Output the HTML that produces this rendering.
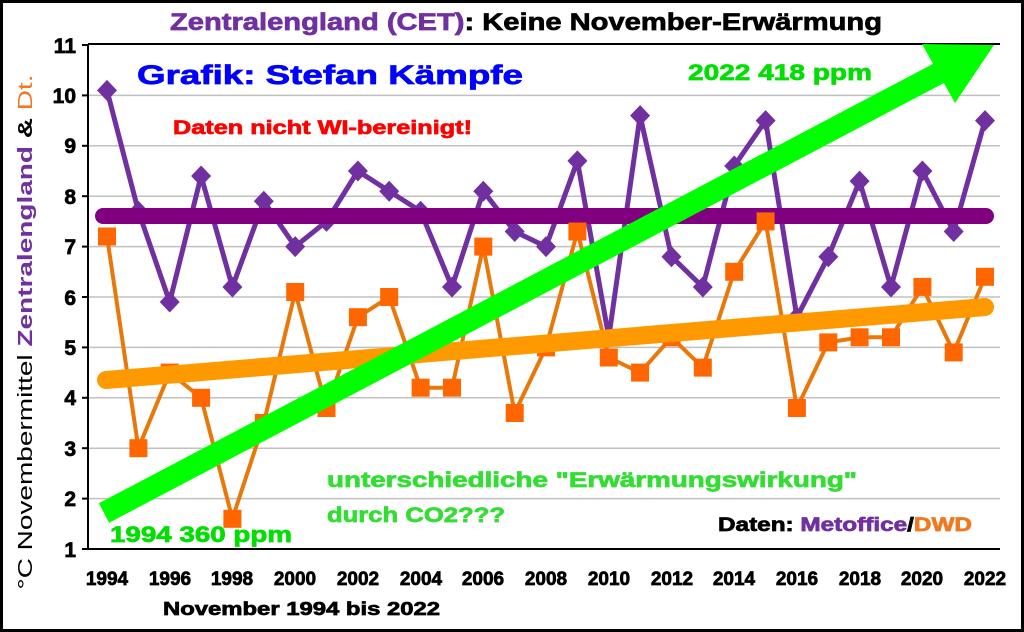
<!DOCTYPE html>
<html><head><meta charset="utf-8"><style>
html,body{margin:0;padding:0;background:#fff}
svg{display:block;font-family:"Liberation Sans",Arial,sans-serif;font-weight:bold}
.h{stroke-width:0.7;paint-order:stroke}
</style></head><body>
<svg width="1024" height="632" viewBox="0 0 1024 632" xmlns="http://www.w3.org/2000/svg">
<rect x="1.5" y="1.5" width="1021" height="629" fill="#fff" stroke="#000" stroke-width="3"/>
<g stroke="#c0c0c0" stroke-width="1.5">
<line x1="88" x2="1000" y1="95.4" y2="95.4"/><line x1="88" x2="1000" y1="145.8" y2="145.8"/>
<line x1="88" x2="1000" y1="196.2" y2="196.2"/><line x1="88" x2="1000" y1="246.6" y2="246.6"/>
<line x1="88" x2="1000" y1="297" y2="297"/><line x1="88" x2="1000" y1="347.4" y2="347.4"/>
<line x1="88" x2="1000" y1="397.8" y2="397.8"/><line x1="88" x2="1000" y1="448.2" y2="448.2"/>
<line x1="88" x2="1000" y1="498.6" y2="498.6"/>
</g>
<g stroke="#000" stroke-width="2">
<line x1="88" y1="44" x2="1000" y2="44"/>
<line x1="88" y1="44" x2="88" y2="549"/>
<line x1="88" y1="549" x2="1000" y2="549"/>
<line x1="82" x2="88" y1="45" y2="45"/><line x1="82" x2="88" y1="95.4" y2="95.4"/><line x1="82" x2="88" y1="145.8" y2="145.8"/><line x1="82" x2="88" y1="196.2" y2="196.2"/><line x1="82" x2="88" y1="246.6" y2="246.6"/><line x1="82" x2="88" y1="297" y2="297"/><line x1="82" x2="88" y1="347.4" y2="347.4"/><line x1="82" x2="88" y1="397.8" y2="397.8"/><line x1="82" x2="88" y1="448.2" y2="448.2"/><line x1="82" x2="88" y1="498.6" y2="498.6"/><line x1="82" x2="88" y1="549" y2="549"/>
</g>
<g font-size="21" text-anchor="end" fill="#000" stroke="#000" class="h">
<text x="76" y="53">11</text><text x="76" y="103">10</text><text x="76" y="153">9</text><text x="76" y="204">8</text><text x="76" y="254">7</text><text x="76" y="305">6</text><text x="76" y="355">5</text><text x="76" y="405">4</text><text x="76" y="456">3</text><text x="76" y="506">2</text><text x="76" y="557">1</text>
</g>
<g font-size="19" text-anchor="middle" fill="#000" stroke="#000" class="h">
<text x="107" y="585">1994</text><text x="170" y="585">1996</text><text x="232" y="585">1998</text><text x="295" y="585">2000</text><text x="358" y="585">2002</text><text x="421" y="585">2004</text><text x="483" y="585">2006</text><text x="546" y="585">2008</text><text x="609" y="585">2010</text><text x="672" y="585">2012</text><text x="734" y="585">2014</text><text x="797" y="585">2016</text><text x="860" y="585">2018</text><text x="922" y="585">2020</text><text x="985" y="585">2022</text>
</g>
<text x="163" y="615" font-size="18" textLength="277" lengthAdjust="spacingAndGlyphs" stroke="#000" class="h">November 1994 bis 2022</text>
<text transform="translate(32,332) rotate(-90)" font-size="20" text-anchor="middle" font-weight="normal" textLength="515" lengthAdjust="spacingAndGlyphs"><tspan fill="#000">°C Novembermittel </tspan><tspan fill="#7030A0" font-weight="bold">Zentralengland</tspan><tspan fill="#000" font-weight="bold"> &amp; </tspan><tspan fill="#F07820">Dt.</tspan></text>
<text x="170" y="30" font-size="24" textLength="712" lengthAdjust="spacingAndGlyphs" class="h"><tspan fill="#7030A0" stroke="#7030A0">Zentralengland (CET)</tspan><tspan fill="#000" stroke="#000">: Keine November-Erwärmung</tspan></text>
<!-- CET series -->
<polyline fill="none" stroke="#7030A0" stroke-width="5" stroke-linejoin="round" points="107,90.4 138.4,211.3 169.7,302 201.1,176 232.4,287 263.8,201.2 295.2,246.6 326.5,221.4 357.9,171 389.2,191.2 420.6,211.3 452,287 483.3,191.2 514.7,231.5 546,246.6 577.4,160.9 608.8,337.3 640.1,115.6 671.5,256.7 702.8,287 734.2,166 765.6,120.6 796.9,317.2 828.3,256.7 859.6,181.1 891,287 922.4,171 953.7,231.5 985,120.6"/>
<g fill="#7030A0">
<polygon points="107,79.9 117,90.4 107,100.9 97,90.4"/><polygon points="138.4,200.8 148.4,211.3 138.4,221.8 128.4,211.3"/><polygon points="169.7,291.5 179.7,302 169.7,312.5 159.7,302"/><polygon points="201.1,165.5 211.1,176 201.1,186.5 191.1,176"/><polygon points="232.4,276.5 242.4,287 232.4,297.5 222.4,287"/><polygon points="263.8,190.7 273.8,201.2 263.8,211.7 253.8,201.2"/><polygon points="295.2,236.1 305.2,246.6 295.2,257.1 285.2,246.6"/><polygon points="326.5,210.9 336.5,221.4 326.5,231.9 316.5,221.4"/><polygon points="357.9,160.5 367.9,171 357.9,181.5 347.9,171"/><polygon points="389.2,180.7 399.2,191.2 389.2,201.7 379.2,191.2"/><polygon points="420.6,200.8 430.6,211.3 420.6,221.8 410.6,211.3"/><polygon points="452,276.5 462,287 452,297.5 442,287"/><polygon points="483.3,180.7 493.3,191.2 483.3,201.7 473.3,191.2"/><polygon points="514.7,221 524.7,231.5 514.7,242 504.7,231.5"/><polygon points="546,236.1 556,246.6 546,257.1 536,246.6"/><polygon points="577.4,150.4 587.4,160.9 577.4,171.4 567.4,160.9"/><polygon points="608.8,326.8 618.8,337.3 608.8,347.8 598.8,337.3"/><polygon points="640.1,105.1 650.1,115.6 640.1,126.1 630.1,115.6"/><polygon points="671.5,246.2 681.5,256.7 671.5,267.2 661.5,256.7"/><polygon points="702.8,276.5 712.8,287 702.8,297.5 692.8,287"/><polygon points="734.2,155.5 744.2,166 734.2,176.5 724.2,166"/><polygon points="765.6,110.1 775.6,120.6 765.6,131.1 755.6,120.6"/><polygon points="796.9,306.7 806.9,317.2 796.9,327.7 786.9,317.2"/><polygon points="828.3,246.2 838.3,256.7 828.3,267.2 818.3,256.7"/><polygon points="859.6,170.6 869.6,181.1 859.6,191.6 849.6,181.1"/><polygon points="891,276.5 901,287 891,297.5 881,287"/><polygon points="922.4,160.5 932.4,171 922.4,181.5 912.4,171"/><polygon points="953.7,221 963.7,231.5 953.7,242 943.7,231.5"/><polygon points="985,110.1 995,120.6 985,131.1 975,120.6"/>
</g>
<line x1="103" y1="216" x2="986" y2="216" stroke="#800080" stroke-width="16" stroke-linecap="round"/>
<!-- DWD series -->
<polyline fill="none" stroke="#E8780A" stroke-width="4" stroke-linejoin="round" points="107,236.5 138.4,448.2 169.7,372.6 201.1,397.8 232.4,518.8 263.8,423 295.2,292 326.5,408 357.9,317.2 389.2,297 420.6,387.7 452,387.7 483.3,246.6 514.7,413 546,347.4 577.4,231.5 608.8,357.5 640.1,372.6 671.5,337.3 702.8,367.6 734.2,271.8 765.6,221.4 796.9,408 828.3,342.4 859.6,337.3 891,337.3 922.4,286.9 953.7,352.4 985,276.8"/>
<g fill="#FF6600">
<rect x="98" y="227.5" width="18" height="18"/><rect x="129.4" y="439.2" width="18" height="18"/><rect x="160.7" y="363.6" width="18" height="18"/><rect x="192.1" y="388.8" width="18" height="18"/><rect x="223.4" y="509.8" width="18" height="18"/><rect x="254.8" y="414" width="18" height="18"/><rect x="286.2" y="283" width="18" height="18"/><rect x="317.5" y="399" width="18" height="18"/><rect x="348.9" y="308.2" width="18" height="18"/><rect x="380.2" y="288" width="18" height="18"/><rect x="411.6" y="378.7" width="18" height="18"/><rect x="443" y="378.7" width="18" height="18"/><rect x="474.3" y="237.6" width="18" height="18"/><rect x="505.7" y="404" width="18" height="18"/><rect x="537" y="338.4" width="18" height="18"/><rect x="568.4" y="222.5" width="18" height="18"/><rect x="599.8" y="348.5" width="18" height="18"/><rect x="631.1" y="363.6" width="18" height="18"/><rect x="662.5" y="328.3" width="18" height="18"/><rect x="693.8" y="358.6" width="18" height="18"/><rect x="725.2" y="262.8" width="18" height="18"/><rect x="756.6" y="212.4" width="18" height="18"/><rect x="787.9" y="399" width="18" height="18"/><rect x="819.3" y="333.4" width="18" height="18"/><rect x="850.6" y="328.3" width="18" height="18"/><rect x="882" y="328.3" width="18" height="18"/><rect x="913.4" y="277.9" width="18" height="18"/><rect x="944.7" y="343.4" width="18" height="18"/><rect x="976" y="267.8" width="18" height="18"/>
</g>
<line x1="106" y1="380" x2="985" y2="307" stroke="#FF9900" stroke-width="18" stroke-linecap="round"/>
<!-- green arrow -->
<line x1="104" y1="513" x2="945" y2="70" stroke="#00FF00" stroke-width="22"/>
<polygon points="994,45 955,103 922,44" fill="#00FF00"/>
<text x="137" y="84" font-size="27" fill="#0000FF" stroke="#0000FF" class="h" textLength="386" lengthAdjust="spacingAndGlyphs">Grafik: Stefan Kämpfe</text>
<text x="173" y="134" font-size="19" fill="#FF0000" stroke="#FF0000" class="h" textLength="299" lengthAdjust="spacingAndGlyphs">Daten nicht WI-bereinigt!</text>
<text x="688" y="80" font-size="22" fill="#00E000" stroke="#00E000" class="h" textLength="184" lengthAdjust="spacingAndGlyphs">2022 418 ppm</text>
<text x="110" y="542" font-size="22" fill="#00E000" stroke="#00E000" class="h" textLength="182" lengthAdjust="spacingAndGlyphs">1994 360 ppm</text>
<text x="327" y="487" font-size="21" fill="#33DD33" stroke="#33DD33" class="h" textLength="530" lengthAdjust="spacingAndGlyphs">unterschiedliche "Erwärmungswirkung"</text>
<text x="327" y="522" font-size="21" fill="#33DD33" stroke="#33DD33" class="h" textLength="178" lengthAdjust="spacingAndGlyphs">durch CO2???</text>
<text x="718" y="531" font-size="19" class="h" textLength="254" lengthAdjust="spacingAndGlyphs"><tspan fill="#000" stroke="#000">Daten: </tspan><tspan fill="#7030A0" stroke="#7030A0">Metoffice</tspan><tspan fill="#000" stroke="#000">/</tspan><tspan fill="#F07820" stroke="#F07820">DWD</tspan></text>
</svg>
</body></html>
